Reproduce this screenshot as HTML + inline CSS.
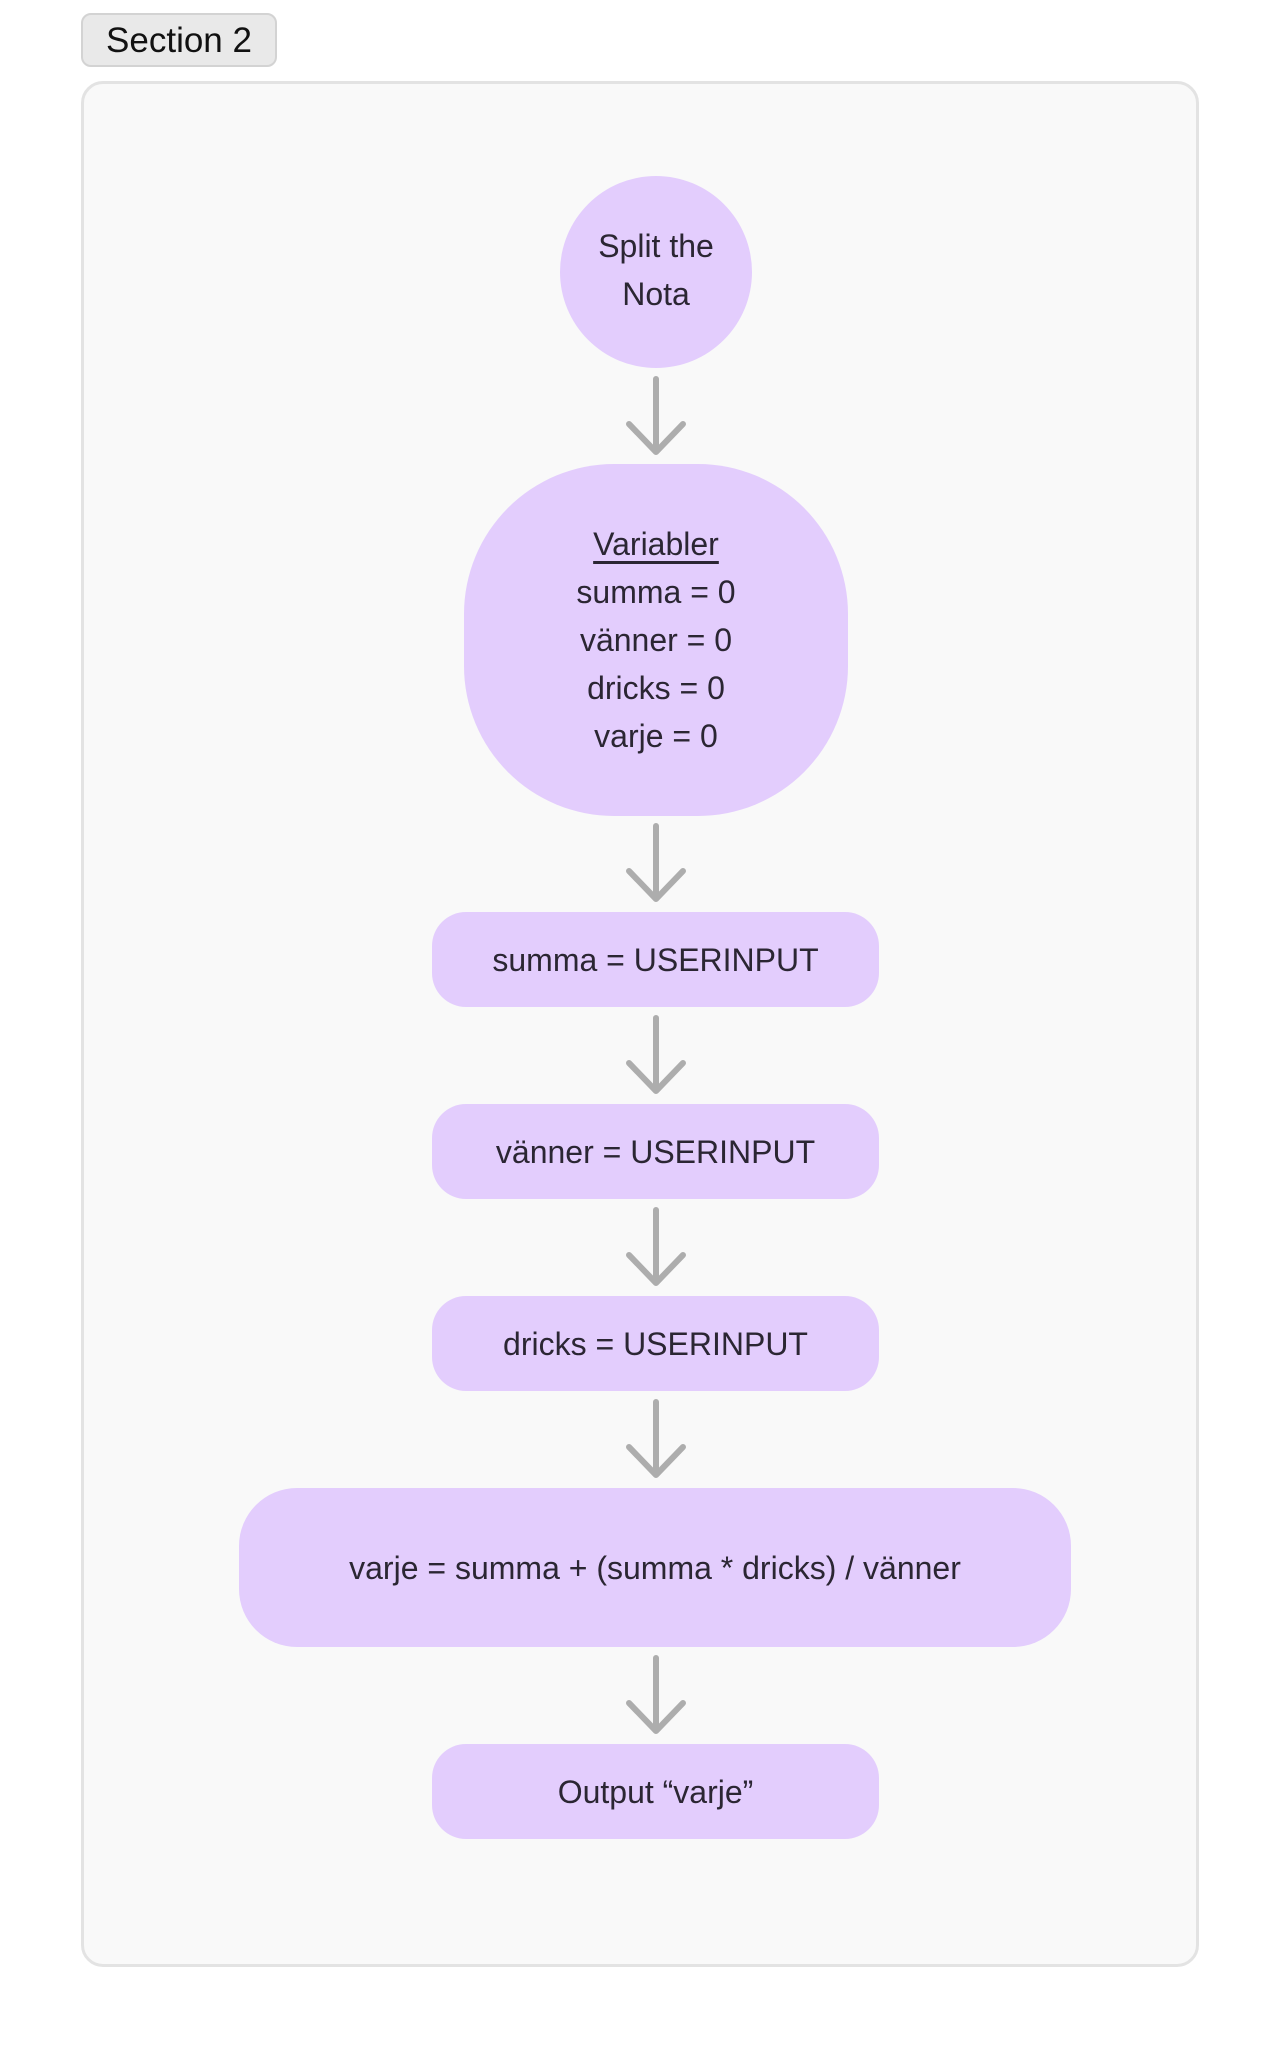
<!DOCTYPE html>
<html><head><meta charset="utf-8"><style>
body{margin:0;width:1280px;height:2048px;background:#fff;position:relative;font-family:"Liberation Sans",sans-serif;color:#2b2633;overflow:hidden}
.tag{position:absolute;left:81px;top:13px;width:196px;height:54px;background:#e9e9e9;border:2px solid #d3d3d3;border-radius:10px;font-size:35px;line-height:52px;text-align:center;color:#111;box-sizing:border-box}
.cont{position:absolute;left:81px;top:81px;width:1118px;height:1886px;background:#f9f9f9;border:3px solid #e3e3e3;border-radius:22px;box-sizing:border-box}
.n{position:absolute;background:#e3cdfd;display:flex;align-items:center;justify-content:center;text-align:center;font-size:32px;line-height:48px}
</style></head><body>
<div class="tag">Section 2</div>
<div class="cont"></div>
<div class="n" style="left:560px;top:176px;width:192px;height:192px;border-radius:50%"><div style="margin-top:-4px">Split the<br>Nota</div></div>
<div class="n" style="left:464px;top:464px;width:384px;height:352px;border-radius:150px"><div><span style="text-decoration:underline;text-underline-offset:6px">Variabler</span><br>summa = 0<br>vänner = 0<br>dricks = 0<br>varje = 0</div></div>
<div class="n" style="left:432px;top:912px;width:447px;height:95px;border-radius:34px">summa = USERINPUT</div>
<div class="n" style="left:432px;top:1104px;width:447px;height:95px;border-radius:34px">vänner = USERINPUT</div>
<div class="n" style="left:432px;top:1296px;width:447px;height:95px;border-radius:34px">dricks = USERINPUT</div>
<div class="n" style="left:239px;top:1488px;width:832px;height:159px;border-radius:58px">varje = summa + (summa * dricks) / vänner</div>
<div class="n" style="left:432px;top:1744px;width:447px;height:95px;border-radius:34px">Output “varje”</div>
<svg width="1280" height="2048" style="position:absolute;left:0;top:0" fill="none" stroke="#adadad" stroke-width="6" stroke-linecap="round" stroke-linejoin="round">
<g id="a"><path d="M656 379V452M629 424L656 452L683 424"/></g>
<use href="#a" y="447"/>
<use href="#a" y="639"/>
<use href="#a" y="831"/>
<use href="#a" y="1023"/>
<use href="#a" y="1279"/>
</svg>
</body></html>
